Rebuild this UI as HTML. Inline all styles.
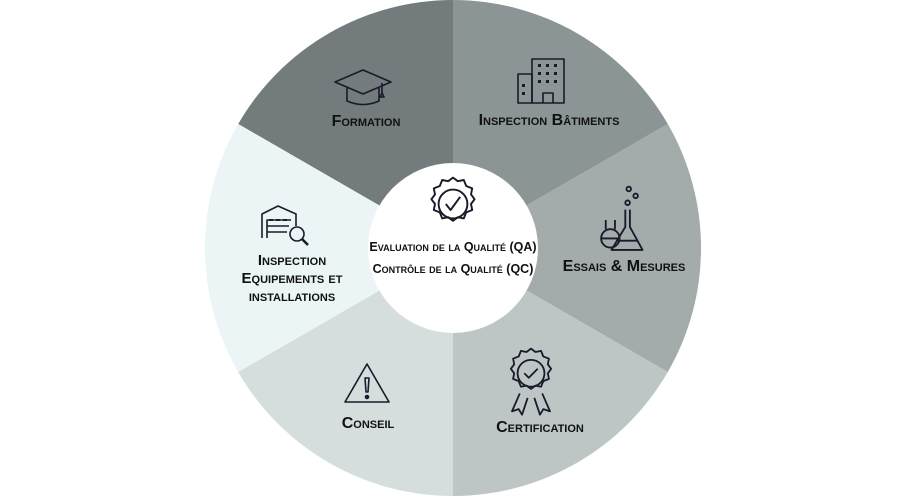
<!DOCTYPE html>
<html><head><meta charset="utf-8"><style>
html,body{margin:0;padding:0;background:#fff;width:900px;height:500px;overflow:hidden}
svg text{font-family:"Liberation Sans",sans-serif;font-weight:bold;font-variant:small-caps;fill:#111;text-anchor:middle}
</style></head><body>
<svg width="900" height="500" viewBox="0 0 900 500">
<g stroke="none">
<path d="M453 248 L453 0 A248 248 0 0 0 238.2 124 Z" fill="#737b7c"/>
<path d="M453 248 L667.8 124 A248 248 0 0 0 453 0 Z" fill="#8c9596"/>
<path d="M453 248 L667.8 372 A248 248 0 0 0 667.8 124 Z" fill="#a3abab"/>
<path d="M453 248 L453 496 A248 248 0 0 0 667.8 372 Z" fill="#bdc5c5"/>
<path d="M453 248 L238.2 372 A248 248 0 0 0 453 496 Z" fill="#d5dddd"/>
<path d="M453 248 L238.2 124 A248 248 0 0 0 238.2 372 Z" fill="#ebf5f6"/>
<circle cx="453" cy="248" r="85" fill="#fff"/>
</g>
<g fill="none" stroke="#1a1a2a" stroke-width="1.6" stroke-linejoin="round">
<path d="M335 82 L363 70 L391 82 L363 94 Z"/><path d="M347 88 V101 Q363 108 379 101 V88"/><path d="M382 83 V93"/><path d="M380 97 L382 93 L384 97 Z"/>
<rect x="518" y="74" width="14" height="29"/><rect x="532" y="59" width="32" height="44"/><path d="M543 103 V93 H553 V103"/>
<g fill="#1a1a2a" stroke="none"><rect x="538" y="64" width="3" height="3"/><rect x="546" y="64" width="3" height="3"/><rect x="554" y="64" width="3" height="3"/><rect x="538" y="72" width="3" height="3"/><rect x="546" y="72" width="3" height="3"/><rect x="554" y="72" width="3" height="3"/><rect x="538" y="80" width="3" height="3"/><rect x="546" y="80" width="3" height="3"/><rect x="554" y="80" width="3" height="3"/><rect x="522" y="84" width="3" height="3"/><rect x="522" y="92" width="3" height="3"/></g>
<g transform="translate(623,220) scale(1.15) translate(-623,-220)">
<circle cx="628" cy="193" r="2"/><circle cx="634" cy="199" r="2"/><circle cx="627" cy="205" r="2"/>
<path d="M625 211 V226 L613 246 H640 L629 226 V211"/><path d="M617 238 H636"/>
<circle cx="612" cy="236" r="8"/><path d="M608 228 V220 M616 228 V220"/><path d="M604 236 H620"/>
</g>
<g transform="translate(453,204) scale(1.2) translate(-453,-204)">
<path d="M453 182 l4 3 5 -1 2 5 5 2 -1 5 3 4 -3 4 1 5 -5 2 -2 5 -5 -1 -4 3 -4 -3 -5 1 -2 -5 -5 -2 1 -5 -3 -4 3 -4 -1 -5 5 -2 2 -5 5 1 Z"/>
<circle cx="453" cy="204" r="12"/><path d="M447 204 l4 5 8 -11"/>
</g>
<path d="M262 238 V214 L278 206 L296 214 V226"/><path d="M267 238 V220 H291"/><path d="M267 226 H289 M267 232 H287"/><path d="M269 220 h4 m3 0 h4 m3 0 h4" stroke-width="2"/>
<circle cx="297" cy="234" r="7"/><path d="M302 239 L308 245" stroke-width="2.5"/>
<path d="M367 364 L389 402 H345 Z"/><path d="M365 378 H369 L368 392 H366 Z"/><circle cx="367" cy="397" r="1.5" fill="#1a1a2a"/>
<g transform="translate(531,380) scale(1.12) translate(-531,-380)">
<path d="M531 352 l4 3 5 -1 2 5 5 2 -1 5 3 4 -3 4 1 5 -5 2 -2 5 -5 -1 -4 3 -4 -3 -5 1 -2 -5 -5 -2 1 -5 -3 -4 3 -4 -1 -5 5 -2 2 -5 5 1 Z"/>
<circle cx="531" cy="374" r="12"/><path d="M525 374 l4 4 8 -8"/>
<path d="M521 392 L514 408 L520 406 L523 411 L528 396"/><path d="M541 392 L548 408 L542 406 L539 411 L534 396"/>
</g>
</g>
<text x="366" y="126" font-size="16">Formation</text>
<text x="549" y="125" font-size="16">Inspection Bâtiments</text>
<text x="624" y="271" font-size="16">Essais &amp; Mesures</text>
<text x="540" y="432" font-size="16">Certification</text>
<text x="368" y="428" font-size="16">Conseil</text>
<text x="292" y="265" font-size="15">Inspection</text>
<text x="292" y="283" font-size="15">Equipements et</text>
<text x="292" y="301" font-size="15">installations</text>
<text x="453" y="251" font-size="12.5">Evaluation de la Qualité (QA)</text>
<text x="453" y="273" font-size="12.5">Contrôle de la Qualité (QC)</text>
</svg>
</body></html>
